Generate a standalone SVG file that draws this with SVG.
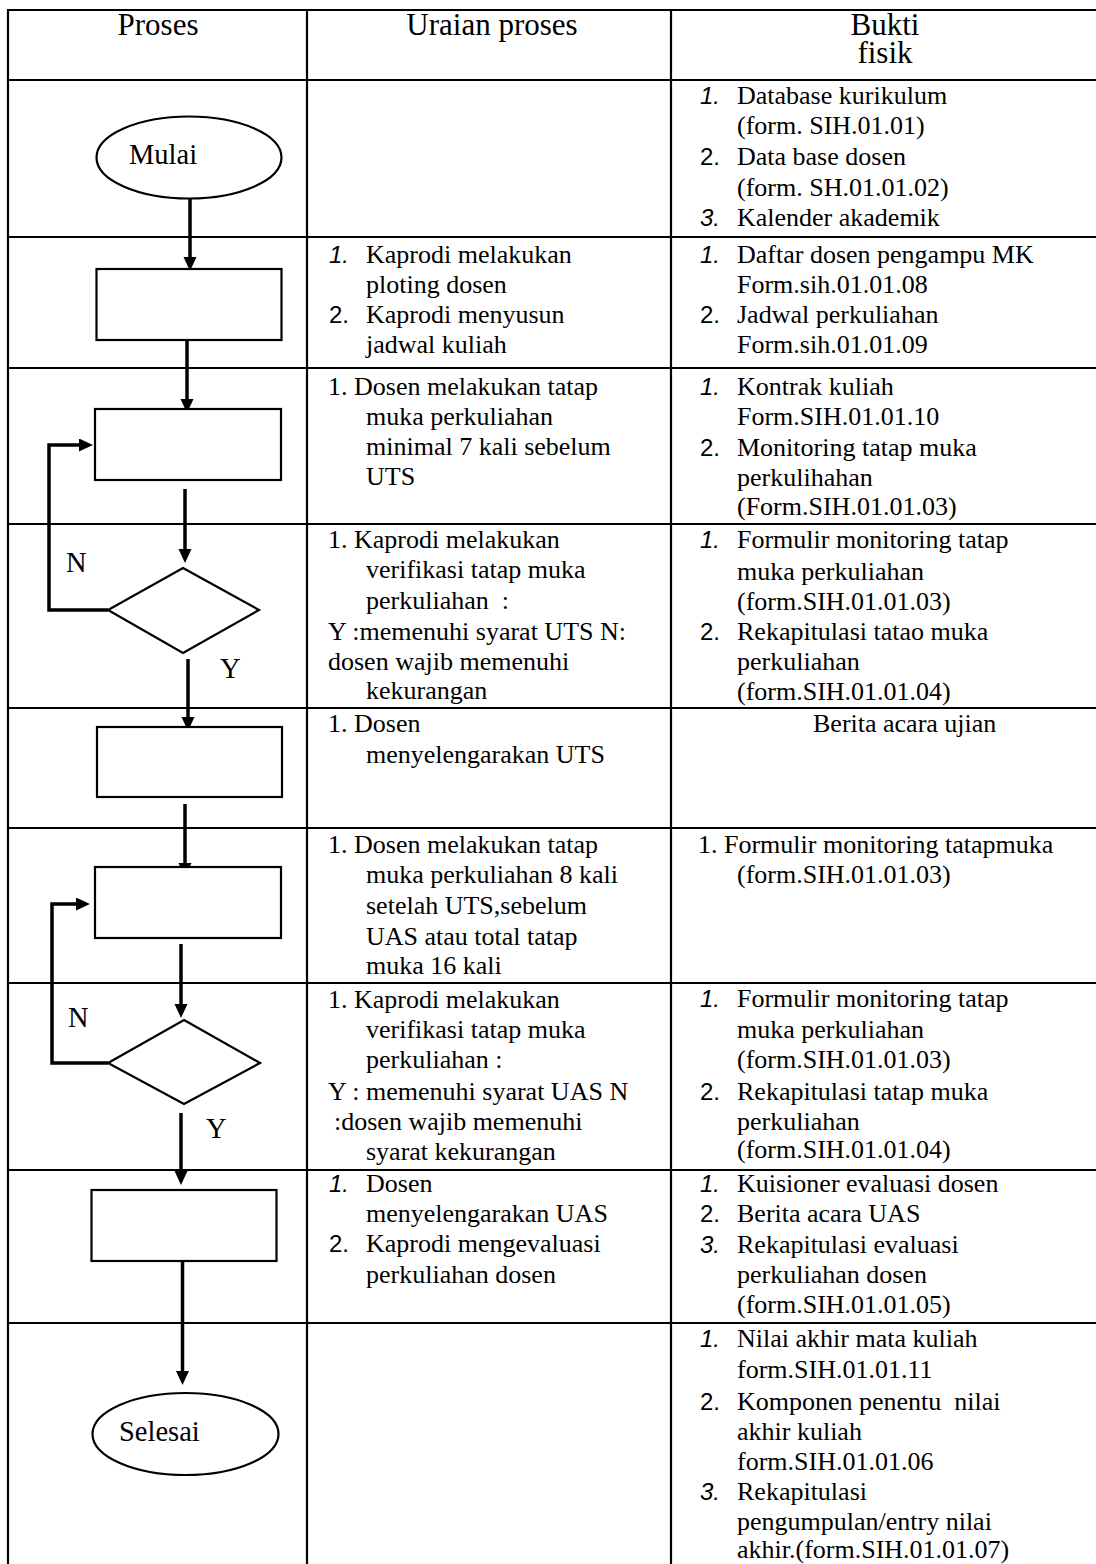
<svg xmlns="http://www.w3.org/2000/svg" width="1096" height="1564" viewBox="0 0 1096 1564">
<style>
.grid{stroke:#000;stroke-width:2.2;fill:none}
.shape{stroke:#000;stroke-width:2.2;fill:#fff}
.conn{stroke:#000;stroke-width:3.5;fill:none;stroke-linejoin:miter}
.hd{font-family:"Liberation Serif","Times New Roman",serif;font-size:31px;fill:#000}
.t{font-family:"Liberation Serif","Times New Roman",serif;font-size:26px;fill:#000;white-space:pre}
.lbl{font-family:"Liberation Serif","Times New Roman",serif;font-size:28.5px;fill:#000}
.n{font-family:"Liberation Sans",Arial,sans-serif;font-size:24px;fill:#000}
.ni{font-family:"Liberation Sans",Arial,sans-serif;font-size:24px;font-style:italic;fill:#000}
</style>
<defs>
<marker id="ah" markerUnits="userSpaceOnUse" markerWidth="16" markerHeight="14" refX="2" refY="6.5" orient="auto">
<path d="M0,0 L14,6.5 L0,13 z" fill="#000"/>
</marker>
</defs>
<rect width="1096" height="1564" fill="#fff"/>
<g id="table" class="grid">
<line x1="8" y1="10" x2="1096" y2="10"/>
<line x1="8" y1="80" x2="1096" y2="80"/>
<line x1="8" y1="237" x2="1096" y2="237"/>
<line x1="8" y1="368" x2="1096" y2="368"/>
<line x1="8" y1="524" x2="1096" y2="524"/>
<line x1="8" y1="708" x2="1096" y2="708"/>
<line x1="8" y1="828" x2="1096" y2="828"/>
<line x1="8" y1="983" x2="1096" y2="983"/>
<line x1="8" y1="1170" x2="1096" y2="1170"/>
<line x1="8" y1="1323" x2="1096" y2="1323"/>
<line x1="8" y1="9" x2="8" y2="1564"/>
<line x1="307" y1="9" x2="307" y2="1564"/>
<line x1="671" y1="9" x2="671" y2="1564"/>
</g>
<g id="header">
<text class="hd" x="158" y="35" text-anchor="middle">Proses</text>
<text class="hd" x="492" y="35" text-anchor="middle">Uraian proses</text>
<text class="hd" x="885" y="35" text-anchor="middle">Bukti</text>
<text class="hd" x="885" y="63" text-anchor="middle">fisik</text>
</g>
<g id="connectors">
<line class="conn" x1="190" y1="198" x2="190" y2="259" marker-end="url(#ah)"/>
<line class="conn" x1="187" y1="340" x2="187" y2="401" marker-end="url(#ah)"/>
<line class="conn" x1="185" y1="489" x2="185" y2="551" marker-end="url(#ah)"/>
<line class="conn" x1="188" y1="659" x2="188" y2="719" marker-end="url(#ah)"/>
<line class="conn" x1="185" y1="804" x2="185" y2="865" marker-end="url(#ah)"/>
<line class="conn" x1="181" y1="944" x2="181" y2="1006" marker-end="url(#ah)"/>
<line class="conn" x1="181" y1="1113" x2="181" y2="1173" marker-end="url(#ah)"/>
<line class="conn" x1="182.5" y1="1261" x2="182.5" y2="1373" marker-end="url(#ah)"/>
<path class="conn" d="M108,610 H49 V445 H81" marker-end="url(#ah)"/>
<path class="conn" d="M108,1063 H52 V904 H78" marker-end="url(#ah)"/>
<text class="lbl" x="66" y="572">N</text>
<text class="lbl" x="220" y="678">Y</text>
<text class="lbl" x="68" y="1027">N</text>
<text class="lbl" x="206" y="1138">Y</text>
</g>
<g id="mulai">
<ellipse class="shape" cx="189" cy="157.5" rx="92.5" ry="41"/>
<text class="lbl" x="129" y="164">Mulai</text>
</g>
<g id="proc1"><rect class="shape" x="96.5" y="269" width="185" height="71"/></g>
<g id="proc2"><rect class="shape" x="95" y="409" width="186" height="71"/></g>
<g id="dec1"><polygon class="shape" points="183,568 259,610 183,653 108,610"/></g>
<g id="proc3"><rect class="shape" x="97" y="727" width="185" height="70"/></g>
<g id="proc4"><rect class="shape" x="95" y="867" width="186" height="71"/></g>
<g id="dec2"><polygon class="shape" points="184,1020 260,1063 184,1104 108,1063"/></g>
<g id="proc5"><rect class="shape" x="91.5" y="1190" width="185" height="71"/></g>
<g id="selesai">
<ellipse class="shape" cx="185.5" cy="1434" rx="93" ry="41"/>
<text class="lbl" x="119" y="1441">Selesai</text>
</g>
<g id="uraian">
<text class="ni" x="329" y="263">1.</text><text class="t" x="366" y="263">Kaprodi melakukan</text>
<text class="t" x="366" y="293">ploting dosen</text>
<text class="n" x="329" y="323">2.</text><text class="t" x="366" y="323">Kaprodi menyusun</text>
<text class="t" x="366" y="353">jadwal kuliah</text>

<text class="t" x="328" y="395">1. Dosen melakukan tatap</text>
<text class="t" x="366" y="425">muka perkuliahan</text>
<text class="t" x="366" y="455">minimal 7 kali sebelum</text>
<text class="t" x="366" y="485">UTS</text>

<text class="t" x="328" y="548">1. Kaprodi melakukan</text>
<text class="t" x="366" y="578">verifikasi tatap muka</text>
<text class="t" x="366" y="609" xml:space="preserve">perkuliahan  :</text>
<text class="t" x="328" y="640">Y :memenuhi syarat UTS N:</text>
<text class="t" x="328" y="670">dosen wajib memenuhi</text>
<text class="t" x="366" y="699">kekurangan</text>

<text class="t" x="328" y="732">1. Dosen</text>
<text class="t" x="366" y="763">menyelengarakan UTS</text>

<text class="t" x="328" y="853">1. Dosen melakukan tatap</text>
<text class="t" x="366" y="883">muka perkuliahan 8 kali</text>
<text class="t" x="366" y="914">setelah UTS,sebelum</text>
<text class="t" x="366" y="945">UAS atau total tatap</text>
<text class="t" x="366" y="974">muka 16 kali</text>

<text class="t" x="328" y="1008">1. Kaprodi melakukan</text>
<text class="t" x="366" y="1038">verifikasi tatap muka</text>
<text class="t" x="366" y="1068">perkuliahan :</text>
<text class="t" x="328" y="1100">Y : memenuhi syarat UAS N</text>
<text class="t" x="334" y="1130">:dosen wajib memenuhi</text>
<text class="t" x="366" y="1160">syarat kekurangan</text>

<text class="ni" x="329" y="1192">1.</text><text class="t" x="366" y="1192">Dosen</text>
<text class="t" x="366" y="1222">menyelengarakan UAS</text>
<text class="n" x="329" y="1252">2.</text><text class="t" x="366" y="1252">Kaprodi mengevaluasi</text>
<text class="t" x="366" y="1283">perkuliahan dosen</text>
</g>
<g id="bukti">
<text class="ni" x="700" y="104">1.</text><text class="t" x="737" y="104">Database kurikulum</text>
<text class="t" x="737" y="134">(form. SIH.01.01)</text>
<text class="n" x="700" y="165">2.</text><text class="t" x="737" y="165">Data base dosen</text>
<text class="t" x="737" y="196">(form. SH.01.01.02)</text>
<text class="ni" x="700" y="226">3.</text><text class="t" x="737" y="226">Kalender akademik</text>

<text class="ni" x="700" y="263">1.</text><text class="t" x="737" y="263">Daftar dosen pengampu MK</text>
<text class="t" x="737" y="293">Form.sih.01.01.08</text>
<text class="n" x="700" y="323">2.</text><text class="t" x="737" y="323">Jadwal perkuliahan</text>
<text class="t" x="737" y="353">Form.sih.01.01.09</text>

<text class="ni" x="700" y="395">1.</text><text class="t" x="737" y="395">Kontrak kuliah</text>
<text class="t" x="737" y="425">Form.SIH.01.01.10</text>
<text class="n" x="700" y="456">2.</text><text class="t" x="737" y="456">Monitoring tatap muka</text>
<text class="t" x="737" y="486">perkulihahan</text>
<text class="t" x="737" y="515">(Form.SIH.01.01.03)</text>

<text class="ni" x="700" y="548">1.</text><text class="t" x="737" y="548">Formulir monitoring tatap</text>
<text class="t" x="737" y="580">muka perkuliahan</text>
<text class="t" x="737" y="610">(form.SIH.01.01.03)</text>
<text class="n" x="700" y="640">2.</text><text class="t" x="737" y="640">Rekapitulasi tatao muka</text>
<text class="t" x="737" y="670">perkuliahan</text>
<text class="t" x="737" y="700">(form.SIH.01.01.04)</text>

<text class="t" x="813" y="732">Berita acara ujian</text>

<text class="t" x="698" y="853">1. Formulir monitoring tatapmuka</text>
<text class="t" x="737" y="883">(form.SIH.01.01.03)</text>

<text class="ni" x="700" y="1007">1.</text><text class="t" x="737" y="1007">Formulir monitoring tatap</text>
<text class="t" x="737" y="1038">muka perkuliahan</text>
<text class="t" x="737" y="1068">(form.SIH.01.01.03)</text>
<text class="n" x="700" y="1100">2.</text><text class="t" x="737" y="1100">Rekapitulasi tatap muka</text>
<text class="t" x="737" y="1130">perkuliahan</text>
<text class="t" x="737" y="1158">(form.SIH.01.01.04)</text>

<text class="ni" x="700" y="1192">1.</text><text class="t" x="737" y="1192">Kuisioner evaluasi dosen</text>
<text class="n" x="700" y="1222">2.</text><text class="t" x="737" y="1222">Berita acara UAS</text>
<text class="ni" x="700" y="1253">3.</text><text class="t" x="737" y="1253">Rekapitulasi evaluasi</text>
<text class="t" x="737" y="1283">perkuliahan dosen</text>
<text class="t" x="737" y="1313">(form.SIH.01.01.05)</text>

<text class="ni" x="700" y="1347">1.</text><text class="t" x="737" y="1347">Nilai akhir mata kuliah</text>
<text class="t" x="737" y="1378">form.SIH.01.01.11</text>
<text class="n" x="700" y="1410">2.</text><text class="t" x="737" y="1410" xml:space="preserve">Komponen penentu  nilai</text>
<text class="t" x="737" y="1440">akhir kuliah</text>
<text class="t" x="737" y="1470">form.SIH.01.01.06</text>
<text class="ni" x="700" y="1500">3.</text><text class="t" x="737" y="1500">Rekapitulasi</text>
<text class="t" x="737" y="1530">pengumpulan/entry nilai</text>
<text class="t" x="737" y="1558">akhir.(form.SIH.01.01.07)</text>
</g>
</svg>
